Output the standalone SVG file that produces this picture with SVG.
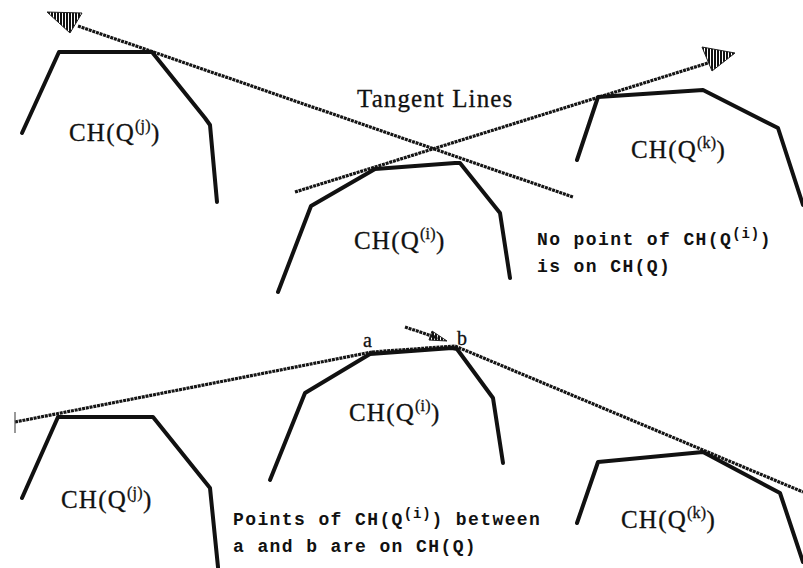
<svg xmlns="http://www.w3.org/2000/svg" width="803" height="568" viewBox="0 0 803 568">
<style>
.hull{fill:none;stroke:#111;stroke-width:4;stroke-linejoin:round;stroke-linecap:round}
.tan{fill:none;stroke:#151515;stroke-width:3.2;stroke-dasharray:3 0.8}
.lbl{font-family:"Liberation Serif","Times New Roman",serif;font-size:25px;letter-spacing:1.2px;fill:#111;stroke:#111;stroke-width:0.3}
.sup{font-size:16px;letter-spacing:0.3px}
.mono{font-family:"Liberation Mono","Courier New",monospace;font-weight:bold;font-size:18px;letter-spacing:1.4px;fill:#111}
.msup{font-size:14px;letter-spacing:0.8px}
.ah{fill:url(#hatch);stroke:#222;stroke-width:1}
</style>
<defs>
<pattern id="hatch" width="3" height="4" patternUnits="userSpaceOnUse">
<rect width="2" height="4" fill="#111"/>
</pattern>
</defs>
<rect width="803" height="568" fill="#fff"/>

<g id="connectors">
<!-- top tangent lines -->
<line class="tan" x1="78" y1="26" x2="573" y2="197"/>
<polygon class="ah" points="47,12 82,13 70,33"/>
<line class="tan" x1="295" y1="192" x2="708" y2="63"/>
<polygon class="ah" points="735,53 702,47 712,71"/>
<!-- bottom tangent lines -->
<line class="tan" x1="15" y1="422" x2="372" y2="352"/>
<line stroke="#555" stroke-width="1.2" x1="15" y1="412" x2="15" y2="433"/>
<line class="tan" x1="372" y1="352" x2="455" y2="346"/>
<line class="tan" x1="455" y1="346" x2="803" y2="492"/>
<line class="tan" x1="405" y1="327" x2="438" y2="338"/>
<polygon class="ah" points="447,341 432,331 429,340"/>
</g>

<g id="hull-j-top">
<polyline class="hull" points="22,133 59,52 152,52 205,118 210,125 217,202"/>
<text class="lbl" x="69" y="141">CH(Q<tspan class="sup" dy="-10">(j)</tspan><tspan dy="10">)</tspan></text>
</g>

<g id="hull-i-top">
<polyline class="hull" points="278,292 311,206 375,169 455,163 460,163 500,213 510,278"/>
<text class="lbl" x="354" y="249">CH(Q<tspan class="sup" dy="-10">(i)</tspan><tspan dy="10">)</tspan></text>
</g>

<g id="hull-k-top">
<polyline class="hull" points="577,160 598,97 703,90 778,128 803,205"/>
<text class="lbl" x="631" y="158">CH(Q<tspan class="sup" dy="-10">(k)</tspan><tspan dy="10">)</tspan></text>
</g>

<g id="title">
<text class="lbl" x="357" y="107" style="letter-spacing:1.1px">Tangent Lines</text>
</g>

<g id="note-top">
<text class="mono" x="537" y="245">No point of CH(Q<tspan class="msup" dy="-7">(i)</tspan><tspan dy="7">)</tspan></text>
<text class="mono" x="537" y="272">is on CH(Q)</text>
</g>

<g id="hull-j-bot">
<polyline class="hull" points="22,498 58,417 153,417 210,488 218,567"/>
<text class="lbl" x="61" y="508">CH(Q<tspan class="sup" dy="-10">(j)</tspan><tspan dy="10">)</tspan></text>
</g>

<g id="hull-i-bot">
<polyline class="hull" points="270,480 305,393 370,354 452,348 457,349 493,398 503,463"/>
<text class="lbl" x="349" y="421">CH(Q<tspan class="sup" dy="-10">(i)</tspan><tspan dy="10">)</tspan></text>
<text class="lbl" x="363" y="347" style="font-size:20px;letter-spacing:0">a</text>
<text class="lbl" x="457" y="345" style="font-size:20px;letter-spacing:0">b</text>
</g>

<g id="hull-k-bot">
<polyline class="hull" points="577,523 598,462 703,452 780,493 803,562"/>
<text class="lbl" x="621" y="528">CH(Q<tspan class="sup" dy="-10">(k)</tspan><tspan dy="10">)</tspan></text>
</g>

<g id="note-bot">
<text class="mono" x="233" y="525">Points of CH(Q<tspan class="msup" dy="-7">(i)</tspan><tspan dy="7">) between</tspan></text>
<text class="mono" x="233" y="552">a and b are on CH(Q)</text>
</g>
</svg>
